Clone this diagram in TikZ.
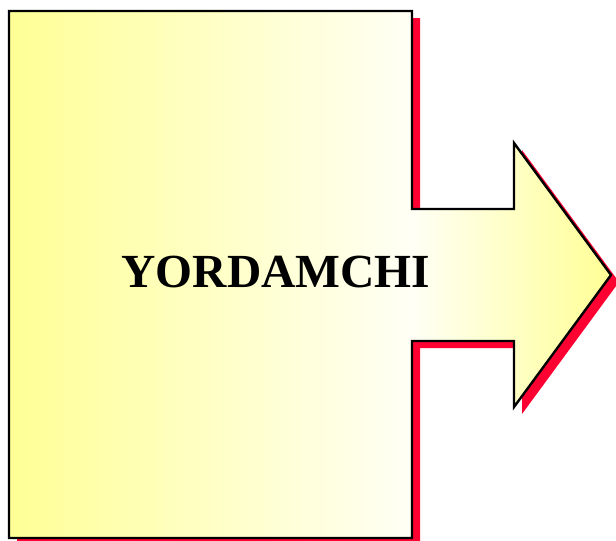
\documentclass[tikz,border=0pt]{standalone}
\usepackage{fontspec}
\setmainfont{Liberation Serif}
\definecolor{yel}{RGB}{255,255,150}
\definecolor{shadowred}{RGB}{255,0,51}
\definecolor{paleend}{RGB}{255,255,245}
\tikzset{
  outline/.style={draw=black, line width=2.4pt, line join=miter},
  shadowfill/.style={fill=shadowred},
  label/.style={font=\fontsize{47.5}{52}\selectfont\bfseries, text=black}
}
\begin{document}
\begin{tikzpicture}[x=1pt,y=-1pt]
\useasboundingbox (0,0) rectangle (616,541);
\def\shapepath{(9,11) -- (412,11) -- (412,209) -- (514,209) -- (514,143) -- (611,275) -- (514,407) -- (514,341) -- (412,341) -- (412,538) -- (9,538) -- cycle}
% shadow
\begin{scope}[shift={(8,7)}]
  \fill[shadowfill] \shapepath;
\end{scope}
% gradient fill
\begin{scope}
  \clip \shapepath;
  \fill[left color=yel, right color=paleend] (9,11) rectangle (412,538);
  \fill[left color=paleend, right color=yel] (412,143) rectangle (611,407);
\end{scope}
\draw[outline] \shapepath;
\node[label] (title) at (276,272) {YORDAMCHI};
\end{tikzpicture}
\end{document}
